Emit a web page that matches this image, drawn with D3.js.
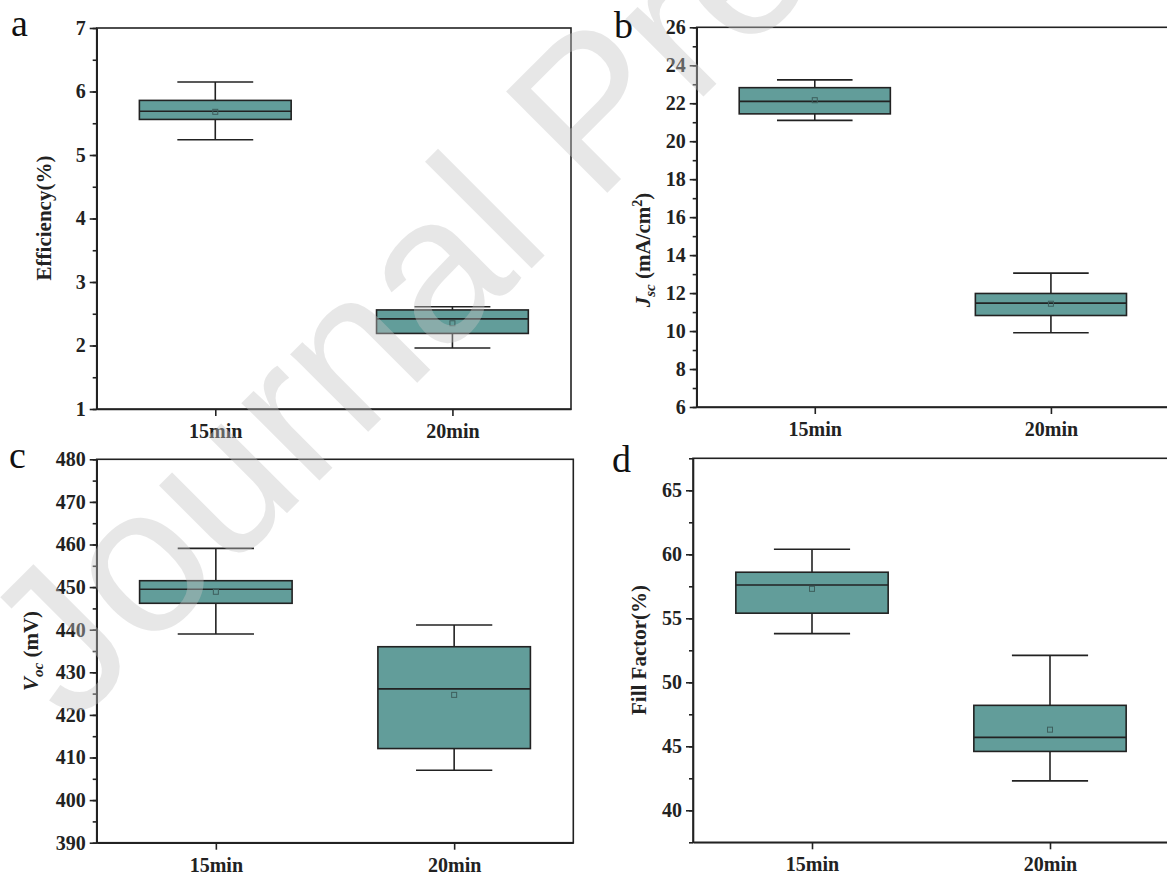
<!DOCTYPE html>
<html>
<head>
<meta charset="utf-8">
<script src="https://cdn.jsdelivr.net/npm/d3@7"></script>
<style>
  body { margin: 0; background: #fff; }
  svg text { font-family: "Liberation Serif", "Times New Roman", serif; }
</style>
</head>
<body>
<svg id="chart"></svg>
<script>
const categories = ["15min", "20min"];

// each row: [whisker low, Q1, median, Q3, whisker high, mean]
const efficiency = [[5.24, 5.56, 5.69, 5.86, 6.15, 5.68], [1.96, 2.19, 2.42, 2.56, 2.61, 2.35]];
const jsc = [[21.1, 21.44, 22.1, 22.82, 23.23, 22.16], [9.91, 10.82, 11.47, 11.98, 13.05, 11.44]];
const voc = [[439.0, 446.2, 449.5, 451.5, 459.1, 448.9], [407.0, 412.1, 426.1, 436.0, 441.1, 424.7]];
const fillFactor = [[53.8, 55.4, 57.6, 58.6, 60.4, 57.3], [42.3, 44.6, 45.7, 48.2, 52.1, 46.3]];

const effTicks = [1, 2, 3, 4, 5, 6, 7];
const jscTicks = [6, 8, 10, 12, 14, 16, 18, 20, 22, 24, 26];
const vocTicks = [390, 400, 410, 420, 430, 440, 450, 460, 470, 480];
const ffTicks = [40, 45, 50, 55, 60, 65];

const effDomain = [1, 7];
const jscDomain = [6, 26];
const vocDomain = [390, 480];
const ffDomain = [37.5, 67.5];

const W = 1167, H = 878;
const ink = "#222";
const teal = "#629d9a";

const svg = d3.select("#chart").attr("width", W).attr("height", H);

function styleAxis(a) {
  a.select(".domain").attr("stroke", ink).attr("stroke-width", 1.6);
  a.selectAll(".tick line").attr("stroke", ink).attr("stroke-width", 1.6);
  a.selectAll(".tick text")
    .attr("fill", ink)
    .style("font-size", "20px")
    .style("font-weight", "bold");
}

function drawPanel(p) {
  const g = svg.append("g");

  const x = d3.scalePoint().domain(categories).range([p.left, p.right]).padding(0.5);
  const y = d3.scaleLinear().domain(p.domain).range([p.bottom, p.top]);
  const boxW = x.step() * 0.64;
  const capW = boxW / 2;

  // frame
  g.append("rect")
    .attr("x", p.left).attr("y", p.top)
    .attr("width", p.right - p.left).attr("height", p.bottom - p.top)
    .attr("fill", "none").attr("stroke", ink).attr("stroke-width", 1.6);

  // minor ticks
  const minor = d3.range(p.domain[0], p.domain[1] + 1e-9, p.minorStep);
  g.append("g")
    .attr("transform", `translate(${p.left},0)`)
    .call(d3.axisLeft(y).tickValues(minor).tickSize(4).tickFormat(""))
    .call(a => a.select(".domain").remove())
    .call(a => a.selectAll(".tick line").attr("stroke", ink).attr("stroke-width", 1.6));

  g.append("g")
    .attr("transform", `translate(${p.left},0)`)
    .call(d3.axisLeft(y).tickValues(p.ticks).tickSize(7).tickSizeOuter(0).tickPadding(4).tickFormat(d3.format("d")))
    .call(styleAxis);

  g.append("g")
    .attr("transform", `translate(0,${p.bottom})`)
    .call(d3.axisBottom(x).tickSize(7).tickSizeOuter(0).tickPadding(8))
    .call(styleAxis);

  const rows = p.data.map((v, i) => ({ cat: categories[i], v: v }));
  const box = g.selectAll(".box").data(rows).join("g").attr("class", "box");

  // whisker stem
  box.append("line")
    .attr("x1", d => x(d.cat)).attr("x2", d => x(d.cat))
    .attr("y1", d => y(d.v[0])).attr("y2", d => y(d.v[4]))
    .attr("stroke", ink).attr("stroke-width", 1.6);

  // caps
  [0, 4].forEach(k => {
    box.append("line")
      .attr("x1", d => x(d.cat) - capW / 2).attr("x2", d => x(d.cat) + capW / 2)
      .attr("y1", d => y(d.v[k])).attr("y2", d => y(d.v[k]))
      .attr("stroke", ink).attr("stroke-width", 1.6);
  });

  box.append("rect")
    .attr("x", d => x(d.cat) - boxW / 2)
    .attr("width", boxW)
    .attr("y", d => y(d.v[3]))
    .attr("height", d => y(d.v[1]) - y(d.v[3]))
    .attr("fill", teal).attr("stroke", ink).attr("stroke-width", 1.6);

  box.append("line")
    .attr("x1", d => x(d.cat) - boxW / 2).attr("x2", d => x(d.cat) + boxW / 2)
    .attr("y1", d => y(d.v[2])).attr("y2", d => y(d.v[2]))
    .attr("stroke", ink).attr("stroke-width", 1.6);

  // mean marker
  box.append("rect")
    .attr("x", d => x(d.cat) - 2.5).attr("y", d => y(d.v[5]) - 2.5)
    .attr("width", 5).attr("height", 5)
    .attr("fill", "none").attr("stroke", "#3e5f5d").attr("stroke-width", 1);

  // y title
  const t = g.append("text")
    .attr("transform", `translate(${p.titleX},${p.titleY}) rotate(-90)`)
    .attr("text-anchor", "middle")
    .attr("fill", ink)
    .style("font-size", "21px")
    .style("font-weight", "bold");
  p.title(t);

  // panel letter
  g.append("text")
    .attr("x", p.letterX).attr("y", p.letterY)
    .attr("fill", "#111")
    .style("font-size", "38px")
    .text(p.letter);
}

drawPanel({
  letter: "a", letterX: 11, letterY: 36,
  left: 96.7, right: 571, top: 28, bottom: 409,
  data: efficiency, domain: effDomain, ticks: effTicks, minorStep: 0.5,
  titleX: 51, titleY: 218,
  title: t => t.text("Efficiency(%)")
});

drawPanel({
  letter: "b", letterX: 614, letterY: 38,
  left: 696.7, right: 1169, top: 27.3, bottom: 407,
  data: jsc, domain: jscDomain, ticks: jscTicks, minorStep: 1,
  titleX: 650, titleY: 250,
  title: t => {
    t.append("tspan").style("font-style", "italic").text("J");
    t.append("tspan").style("font-style", "italic").style("font-size", "15px").attr("dy", 5).text("sc");
    t.append("tspan").attr("dy", -5).text(" (mA/cm");
    t.append("tspan").style("font-size", "14px").attr("dy", -8).text("2");
    t.append("tspan").attr("dy", 8).text(")");
  }
});

drawPanel({
  letter: "c", letterX: 9, letterY: 468,
  left: 96.7, right: 573.3, top: 459.3, bottom: 842.7,
  data: voc, domain: vocDomain, ticks: vocTicks, minorStep: 5,
  titleX: 38, titleY: 651,
  title: t => {
    t.append("tspan").style("font-style", "italic").text("V");
    t.append("tspan").style("font-style", "italic").style("font-size", "15px").attr("dy", 5).text("oc");
    t.append("tspan").attr("dy", -5).text(" (mV)");
  }
});

drawPanel({
  letter: "d", letterX: 612, letterY: 472,
  left: 693, right: 1169, top: 458.3, bottom: 842.3,
  data: fillFactor, domain: ffDomain, ticks: ffTicks, minorStep: 2.5,
  titleX: 646, titleY: 650,
  title: t => t.text("Fill Factor(%)")
});

// watermark
svg.append("text")
  .attr("transform", "translate(72,728) rotate(-45)")
  .style("font-family", "'Liberation Sans', Arial, sans-serif")
  .style("font-size", "208px")
  .attr("fill", "#c4c4c4")
  .attr("opacity", 0.4)
  .text("Journal Pre-proof");
</script>
</body>
</html>
